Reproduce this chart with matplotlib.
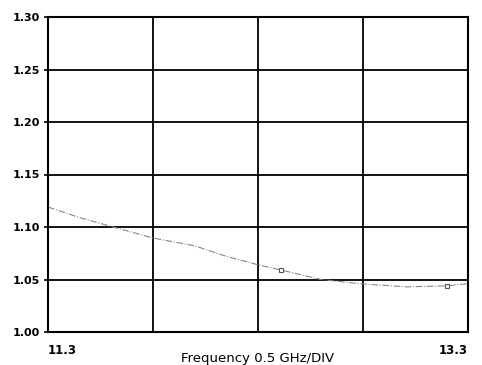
import matplotlib
matplotlib.use("Agg")
import matplotlib.pyplot as plt

freq = [11.30, 11.45, 11.61, 11.80, 12.00, 12.15, 12.30, 12.41, 12.60, 12.80, 13.01, 13.20, 13.30]
vswr = [1.119, 1.109, 1.100, 1.0895, 1.082, 1.072, 1.064, 1.059, 1.050, 1.0457, 1.043, 1.044, 1.046]
mark_freq = [12.41, 13.20]
mark_vswr = [1.059, 1.044]
xticks = [11.3, 11.8, 12.3, 12.8, 13.3]
xticklabels = ["11.3", "", "", "", "13.3"]
yticks = [1.00, 1.05, 1.10, 1.15, 1.20, 1.25, 1.30]
yticklabels = ["1.00", "1.05", "1.10", "1.15", "1.20", "1.25", "1.30"]

fig = plt.figure(figsize=(4.82, 3.65), dpi=100)
ax = fig.add_axes([48/482, 1 - 332/365, 420/482, 315/365])
ax.plot(freq, vswr, color="#888888", lw=0.8, ls=(0, (6, 1.5, 1, 1.5)))
ax.plot(mark_freq, mark_vswr, ls="none", marker="s", ms=3.5, mfc="white", mec="#555555", mew=0.8)
ax.set_xlim(11.3, 13.3)
ax.set_ylim(1.0, 1.3)
ax.set_xticks(xticks)
ax.set_xticklabels(xticklabels, fontsize=8.5, fontweight="bold")
labs = ax.get_xticklabels()
labs[0].set_ha("left")
labs[-1].set_ha("right")
ax.set_yticks(yticks)
ax.set_yticklabels(yticklabels, fontsize=8, fontweight="bold")
ax.grid(True, color="black", lw=1.3)
for s in ax.spines.values():
    s.set_linewidth(1.5)
ax.tick_params(axis="x", length=0, pad=9)
ax.tick_params(axis="y", length=3, width=1.2, pad=3)
ax.set_xlabel("Frequency 0.5 GHz/DIV", fontsize=9.5, labelpad=-4)
fig.savefig("out.png", dpi=100)
